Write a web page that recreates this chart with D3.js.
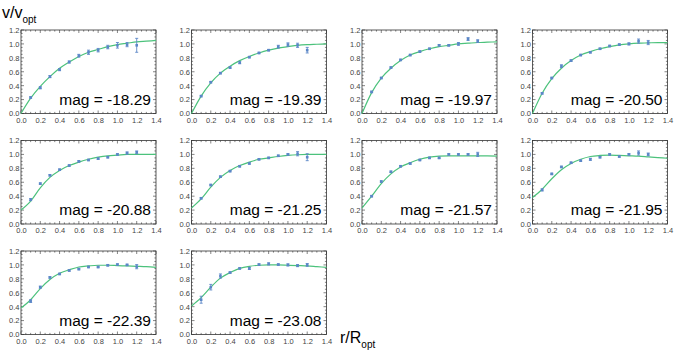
<!DOCTYPE html>
<html><head><meta charset="utf-8">
<script src="https://cdn.jsdelivr.net/npm/d3@7"></script>
<style>body{margin:0;background:#fff}svg{display:block}</style>
</head><body>
<script>
// ---- data ----
const mags = ["-18.29","-19.39","-19.97","-20.50","-20.88","-21.25","-21.57","-21.95","-22.39","-23.08"];
const rPoints = [0.1,0.2,0.3,0.4,0.5,0.6,0.7,0.8,0.9,1.0,1.1,1.2];
const rCurve = [0,0.1,0.2,0.3,0.4,0.5,0.6,0.7,0.8,0.9,1.0,1.1,1.2,1.3,1.4];
const xTicks = [0,0.2,0.4,0.6,0.8,1.0,1.2,1.4];
const yTicks = [0,0.2,0.4,0.6,0.8,1.0,1.2];

const v1829 = [0.23,0.37,0.53,0.63,0.74,0.83,0.88,0.91,0.955,0.98,0.99,0.98];
const e1829 = [0.01,0.015,0.015,0.015,0.015,0.02,0.03,0.025,0.025,0.04,0.03,0.10];
const c1829 = [0,0.22,0.39,0.53,0.65,0.74,0.82,0.88,0.92,0.96,0.99,1.01,1.03,1.04,1.05];

const v1939 = [0.25,0.45,0.58,0.66,0.73,0.81,0.87,0.91,0.96,0.99,0.98,0.91];
const e1939 = [0.01,0.01,0.01,0.01,0.015,0.01,0.01,0.01,0.02,0.025,0.03,0.04];
const c1939 = [0,0.25,0.44,0.58,0.68,0.76,0.82,0.87,0.91,0.94,0.96,0.98,0.99,0.995,1.0];

const v1997 = [0.31,0.51,0.66,0.77,0.84,0.89,0.93,0.98,0.98,1.0,1.07,1.04];
const e1997 = [0.01,0.01,0.01,0.01,0.01,0.01,0.01,0.01,0.01,0.02,0.02,0.02];
const c1997 = [0,0.30,0.51,0.65,0.76,0.84,0.89,0.93,0.96,0.98,1.0,1.01,1.02,1.025,1.03];

const v2050 = [0.29,0.51,0.68,0.76,0.84,0.88,0.93,0.97,0.99,1.0,1.04,1.02];
const e2050 = [0.01,0.01,0.02,0.01,0.01,0.01,0.01,0.01,0.01,0.015,0.03,0.03];
const c2050 = [0,0.29,0.50,0.65,0.76,0.84,0.89,0.93,0.96,0.985,1.0,1.01,1.015,1.02,1.02];

const v2088 = [0.35,0.58,0.70,0.78,0.84,0.90,0.92,0.94,0.96,1.0,1.02,1.03];
const e2088 = [0.015,0.01,0.01,0.01,0.01,0.01,0.01,0.01,0.01,0.01,0.015,0.02];
const c2088 = [0.20,0.33,0.52,0.67,0.77,0.84,0.89,0.93,0.96,0.98,0.99,1.0,1.0,1.0,1.0];

const v2125 = [0.37,0.56,0.68,0.76,0.83,0.87,0.93,0.95,0.98,1.0,1.01,0.96];
const e2125 = [0.01,0.01,0.01,0.01,0.01,0.01,0.01,0.01,0.01,0.01,0.03,0.05];
const c2125 = [0.23,0.36,0.53,0.67,0.77,0.84,0.89,0.93,0.95,0.97,0.985,0.995,1.0,1.0,1.0];

const v2157 = [0.40,0.61,0.75,0.83,0.87,0.92,0.95,0.95,1.0,1.0,1.0,1.0];
const e2157 = [0.01,0.01,0.01,0.01,0.01,0.01,0.01,0.01,0.01,0.01,0.01,0.03];
const c2157 = [0.23,0.40,0.58,0.72,0.82,0.88,0.93,0.96,0.975,0.98,0.98,0.98,0.98,0.98,0.975];

const v2195 = [0.49,0.72,0.82,0.88,0.91,0.93,0.96,1.0,0.97,1.0,1.02,1.0];
const e2195 = [0.015,0.01,0.01,0.01,0.01,0.015,0.01,0.01,0.01,0.01,0.03,0.02];
const c2195 = [0.38,0.50,0.65,0.78,0.87,0.93,0.97,0.985,0.99,0.985,0.98,0.975,0.965,0.955,0.945];

const v2239 = [0.48,0.68,0.82,0.87,0.92,0.94,0.97,0.97,0.995,1.005,1.0,0.975];
const e2239 = [0.02,0.015,0.01,0.01,0.01,0.01,0.01,0.01,0.01,0.01,0.01,0.03];
const c2239 = [0.38,0.50,0.66,0.79,0.88,0.93,0.97,0.985,0.995,0.995,0.99,0.985,0.98,0.975,0.965];

const v2308 = [0.50,0.68,0.84,0.89,0.95,0.95,1.005,1.015,1.005,1.0,0.99,1.0];
const e2308 = [0.05,0.04,0.03,0.01,0.01,0.015,0.01,0.015,0.01,0.015,0.015,0.02];
const c2308 = [0.41,0.53,0.68,0.81,0.89,0.95,0.98,0.995,1.0,1.0,0.995,0.99,0.985,0.975,0.965];

const pointValues = [v1829,v1939,v1997,v2050,v2088,v2125,v2157,v2195,v2239,v2308];
const pointErrors = [e1829,e1939,e1997,e2050,e2088,e2125,e2157,e2195,e2239,e2308];
const curveValues = [c1829,c1939,c1997,c2050,c2088,c2125,c2157,c2195,c2239,c2308];

// ---- layout ----
const W = 681, H = 353;
const pw = 135, ph = 83.5;
const svg = d3.select("body").append("svg").attr("width", W).attr("height", H)
  .style("font-family", "'Liberation Sans', Arial, sans-serif");

const blue = "#5b87c7", green = "#4cc27c", frame = "#333";

mags.forEach((mag, i) => {
  const col = i % 4, row = Math.floor(i / 4);
  const left = 21 + col * 170.5, top = 30 + row * 110.5;
  const g = svg.append("g").attr("transform", `translate(${left},${top})`);
  const x = d3.scaleLinear().domain([0, 1.4]).range([0, pw]);
  const y = d3.scaleLinear().domain([0, 1.2]).range([ph, 0]);

  // frame ticks (minor & major) on all sides, inward
  const minorX = d3.range(0, 1.4001, 0.05), minorY = d3.range(0, 1.2001, 0.05);
  const isMajor = v => Math.abs(v * 5 - Math.round(v * 5)) < 1e-6;
  const tk = g.append("g").attr("stroke", frame).attr("stroke-width", 0.6);
  minorX.forEach(v => {
    const L = isMajor(v) ? 3 : 1.6;
    tk.append("line").attr("x1", x(v)).attr("x2", x(v)).attr("y1", ph).attr("y2", ph - L);
    tk.append("line").attr("x1", x(v)).attr("x2", x(v)).attr("y1", 0).attr("y2", L);
  });
  minorY.forEach(v => {
    const L = isMajor(v) ? 3 : 1.6;
    tk.append("line").attr("x1", 0).attr("x2", L).attr("y1", y(v)).attr("y2", y(v));
    tk.append("line").attr("x1", pw).attr("x2", pw - L).attr("y1", y(v)).attr("y2", y(v));
  });

  // axes labels via d3 axes (labels only)
  const xa = g.append("g").attr("transform", `translate(0,${ph})`)
    .call(d3.axisBottom(x).tickValues(xTicks).tickSize(0).tickPadding(4).tickFormat(d3.format(".1f")));
  const ya = g.append("g")
    .call(d3.axisLeft(y).tickValues(yTicks).tickSize(0).tickPadding(1.5).tickFormat(d3.format(".1f")));
  [xa, ya].forEach(a => {
    a.select(".domain").remove();
    a.selectAll("text").attr("fill", "#444").style("font-size", "7.5px")
      .style("font-family", "'Liberation Sans', Arial, sans-serif");
  });

  // frame
  g.append("rect").attr("width", pw).attr("height", ph)
    .attr("fill", "none").attr("stroke", frame).attr("stroke-width", 0.8);

  // curve
  const cv = curveValues[i];
  g.append("path")
    .datum(rCurve.map((r, k) => [r, cv[k]]))
    .attr("fill", "none").attr("stroke", green).attr("stroke-width", 1.2)
    .attr("d", d3.line().x(d => x(d[0])).y(d => y(d[1])).curve(d3.curveMonotoneX));

  // error bars & points
  const pv = pointValues[i], pe = pointErrors[i];
  const eb = g.append("g").attr("stroke", blue).attr("stroke-width", 0.9);
  rPoints.forEach((r, k) => {
    const cx = x(r), y1 = y(pv[k] - pe[k]), y2 = y(pv[k] + pe[k]);
    eb.append("line").attr("x1", cx).attr("x2", cx).attr("y1", y1).attr("y2", y2);
    eb.append("line").attr("x1", cx - 1.5).attr("x2", cx + 1.5).attr("y1", y1).attr("y2", y1);
    eb.append("line").attr("x1", cx - 1.5).attr("x2", cx + 1.5).attr("y1", y2).attr("y2", y2);
  });
  g.append("g").selectAll("rect").data(rPoints).join("rect")
    .attr("x", r => x(r) - 1.3).attr("y", (r, k) => y(pv[k]) - 1.3)
    .attr("width", 2.6).attr("height", 2.6).attr("fill", blue);

  // mag label
  g.append("text").attr("x", pw - 5).attr("y", ph - 9).attr("text-anchor", "end")
    .style("font-size", "15.5px").attr("fill", "#000").text("mag = " + mag);
});

// axis titles
const yt = svg.append("text").attr("x", 2).attr("y", 18).style("font-size", "16px");
yt.append("tspan").text("v/v");
yt.append("tspan").attr("dy", 5).style("font-size", "10px").text("opt");

const xt = svg.append("text").attr("x", 340).attr("y", 343).style("font-size", "16px");
xt.append("tspan").text("r/R");
xt.append("tspan").attr("dy", 5).style("font-size", "10px").text("opt");
</script>
</body></html>
